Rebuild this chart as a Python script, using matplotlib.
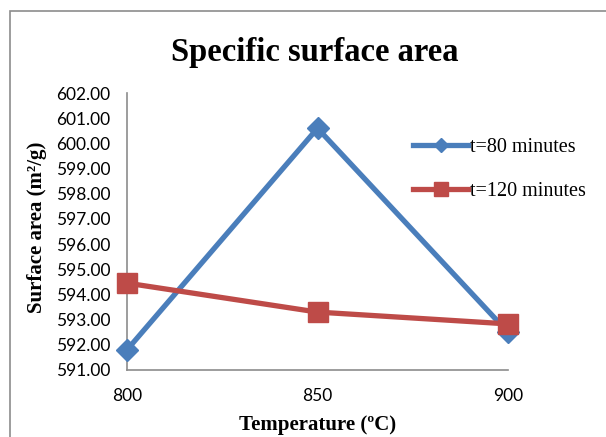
import matplotlib
matplotlib.use('Agg')
import matplotlib.pyplot as plt
from matplotlib.patches import Rectangle

# data
temps = [800, 850, 900]
t80 = [591.80, 600.60, 592.50]
t120 = [594.45, 593.30, 592.83]
yticks = [591 + i for i in range(12)]

blue = '#4a7ebb'
red = '#be4b48'

fig = plt.figure(figsize=(6.06, 4.37), dpi=100)
fig.patches.append(Rectangle((10/606, -0.1), 1.1, 1 - 11/437 + 0.1,
                             transform=fig.transFigure, fill=False,
                             edgecolor='#8c8c8c', linewidth=1.2))

ax = fig.add_axes([127/606, 1 - 370/437, (508 - 127)/606, (370 - 93)/437])
ax.plot(temps, t80, color=blue, lw=3.8, marker='D', ms=11, label='t=80 minutes',
        clip_on=False, zorder=3)
ax.plot(temps, t120, color=red, lw=3.8, marker='s', ms=14, label='t=120 minutes',
        clip_on=False, zorder=4)

ax.set_xlim(800, 900)
ax.set_ylim(591, 602)
ax.set_xticks(temps)
ax.set_yticks(yticks)
ax.set_yticklabels(['%.2f' % v for v in yticks])
ax.tick_params(length=0, labelsize=12.5)
for lab in ax.get_xticklabels() + ax.get_yticklabels():
    lab.set_family('Lato')
ax.tick_params(axis='x', pad=13)
ax.tick_params(axis='y', pad=12)

for s in ['top', 'right']:
    ax.spines[s].set_visible(False)
for s in ['left', 'bottom']:
    ax.spines[s].set_color('#8c8c8c')
    ax.spines[s].set_linewidth(1.2)

serif = 'Liberation Serif'
fig.text(315/606, 1 - 52/437, 'Specific surface area', ha='center', va='center',
         family=serif, weight='bold', fontsize=23.5)
fig.text(37/606, 1 - 227/437, 'Surface area (m\u00b2/g)', ha='center', va='center',
         rotation=90, family=serif, weight='bold', fontsize=15)
fig.text(318/606, 1 - 425/437, 'Temperature (\u00baC)', ha='center', va='center',
         family=serif, weight='bold', fontsize=15)

leg = ax.legend(loc='upper left', bbox_to_anchor=((405 - 127)/381, 1 - (130 - 93)/277),
                frameon=False, prop={'family': serif, 'size': 14.5},
                handlelength=2.75, handletextpad=0.1, labelspacing=1.25,
                borderaxespad=0)
leg.legend_handles[0].set_markersize(7)
leg.legend_handles[1].set_markersize(10)

fig.savefig('out.png', dpi=100)
